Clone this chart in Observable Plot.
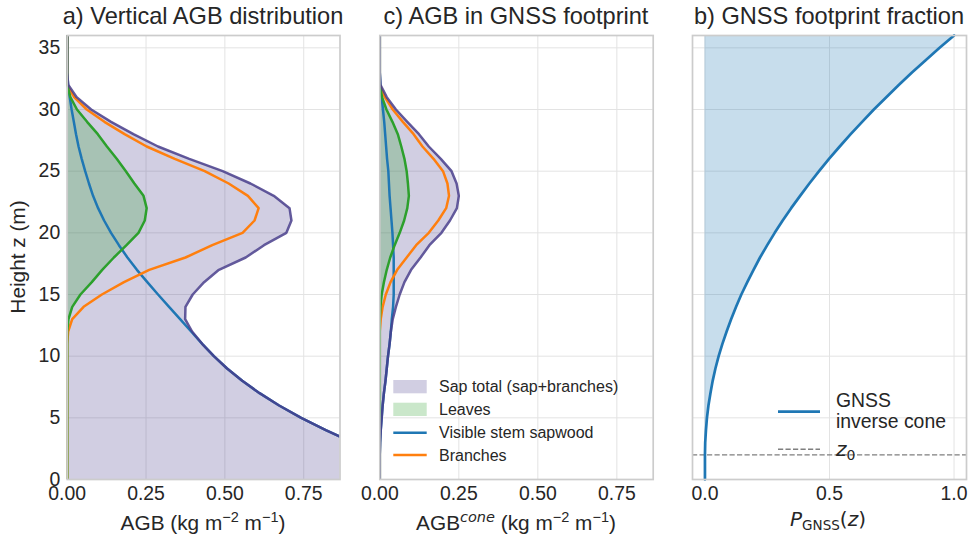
<!DOCTYPE html>
<html><head><meta charset="utf-8">
<script src="https://cdn.jsdelivr.net/npm/d3@7"></script>
<script src="https://cdn.jsdelivr.net/npm/@observablehq/plot@0.6"></script>
<style>
body{margin:0;background:#fff;}
#wrap{position:relative;width:972px;height:539px;overflow:hidden;font-family:"Liberation Sans",Arial,sans-serif;}
#wrap > svg{position:absolute;top:0;}
</style></head><body><div id="wrap"></div>
<script>
// ---- data ----
const heights = [0,1,2,3,4,5,6,7,8,9,10,11,12,13,14,15,16,17,18,19,20,21,22,23,24,25,26,27,28,29,30,31,32,33,34,35,36];
// a) vertical AGB distribution (kg m-2 m-1)
const stemA   = [1.205,1.097,0.997,0.905,0.820,0.742,0.672,0.610,0.555,0.507,0.465,0.428,0.393,0.358,0.323,0.288,0.254,0.221,0.191,0.164,0.139,0.117,0.098,0.082,0.069,0.057,0.046,0.036,0.028,0.021,0.014,0.008,0.003,0,0,0,0];
const branchA = [0,0,0,0,0,0,0,0,0,0,0,0,0.003,0.016,0.052,0.110,0.180,0.260,0.375,0.460,0.556,0.594,0.607,0.573,0.512,0.436,0.341,0.252,0.182,0.118,0.062,0.022,0,0,0,0,0];
const leavesA = [0,0,0,0,0,0,0,0,0,0,0,0,0,0.004,0.016,0.042,0.078,0.111,0.148,0.188,0.226,0.246,0.252,0.242,0.213,0.186,0.157,0.126,0.097,0.063,0.031,0.010,0,0,0,0,0];
// c) AGB inside the GNSS footprint
const stemC   = [0,0,0,0.001,0.003,0.006,0.009,0.013,0.018,0.022,0.026,0.031,0.035,0.038,0.042,0.044,0.044,0.044,0.044,0.042,0.040,0.037,0.034,0.031,0.029,0.027,0.023,0.020,0.017,0.014,0.010,0.006,0.002,0,0,0,0];
const branchC = [0,0,0,0,0,0,0,0,0,0,0,0,0,0.003,0.009,0.019,0.034,0.055,0.085,0.115,0.155,0.185,0.210,0.219,0.214,0.200,0.170,0.135,0.107,0.073,0.041,0.016,0,0,0,0,0];
const leavesC = [0,0,0,0,0,0,0,0,0,0,0,0,0,0,0.002,0.006,0.013,0.022,0.033,0.047,0.063,0.077,0.087,0.092,0.089,0.085,0.078,0.068,0.057,0.040,0.021,0.007,0,0,0,0,0];
// b) GNSS footprint fraction
const pGnss   = [0,0,0,0.001,0.004,0.008,0.014,0.022,0.031,0.042,0.055,0.070,0.087,0.105,0.125,0.146,0.170,0.195,0.221,0.250,0.280,0.312,0.346,0.382,0.419,0.458,0.498,0.541,0.585,0.631,0.678,0.728,0.779,0.831,0.886,0.942,1.000];
const z0 = [2];
// ticks & labels
const yTicks = [0,5,10,15,20,25,30,35];
const agbTicks = [0,0.25,0.5,0.75];
const pTicks = [0,0.5,1.0];
const titles = ["a) Vertical AGB distribution","c) AGB in GNSS footprint","b) GNSS footprint fraction"];
const legendC = ["Sap total (sap+branches)","Leaves","Visible stem sapwood","Branches"];
const legendB = ["GNSS","inverse cone"];

const C = {blue:"#1f77b4", orange:"#ff7f0e", green:"#2ca02c", purple:"#483d8b", grid:"#e3e3e3", frame:"#cccccc", text:"#262626"};
const LW = 2.5;

function rows(stem, branch, leaves){
  return heights.map((z,i)=>({z, stem:stem[i], branches:branch[i], leaves:leaves[i], total:stem[i]+branch[i]}));
}
const rowsA = rows(stemA, branchA, leavesA);
const rowsC = rows(stemC, branchC, leavesC);
const rowsB = heights.map((z,i)=>({z, p:pGnss[i]}));

function agbMarks(data){
  return [
    Plot.areaX(data,{y:"z",x1:0,x2:"total",fill:C.purple,fillOpacity:0.25,clip:true}),
    Plot.areaX(data,{y:"z",x1:0,x2:"leaves",fill:C.green,fillOpacity:0.25,clip:true}),
    Plot.lineX(data,{y:"z",x:"stem",stroke:C.blue,strokeWidth:LW,clip:true}),
    Plot.lineX(data,{y:"z",x:"branches",stroke:C.orange,strokeWidth:LW,clip:true}),
    Plot.lineX(data,{y:"z",x:"leaves",stroke:C.green,strokeWidth:LW,clip:true}),
    Plot.lineX(data,{y:"z",x:"total",stroke:C.purple,strokeOpacity:0.85,strokeWidth:LW,clip:true})
  ];
}

function panel({left,width,ml,mr,xDomain,xTicks,fmt,showY,marks}){
  const svg = Plot.plot({
    width, height:505, marginLeft:ml, marginRight:mr, marginTop:35, marginBottom:26,
    style:{fontFamily:"Liberation Sans, Arial, sans-serif",fontSize:"19.4px",color:C.text,background:"transparent",overflow:"visible"},
    x:{domain:xDomain,ticks:xTicks,tickFormat:d3.format(fmt),label:null,tickSize:0,tickPadding:7},
    y:{domain:[0,36],ticks:yTicks,label:null,tickSize:0,tickPadding:7,axis:showY?"left":null},
    marks:[
      Plot.ruleX(xTicks,{x:d=>d,stroke:C.grid,strokeWidth:1}),
      Plot.ruleY(yTicks,{y:d=>d,stroke:C.grid,strokeWidth:1}),
      ...marks,
      Plot.frame({stroke:C.frame,strokeWidth:1.7})
    ]
  });
  svg.style.left = left+"px";
  document.getElementById("wrap").appendChild(svg);
}

panel({left:0,width:346,ml:66.7,mr:6.5,xDomain:[0,0.865],xTicks:agbTicks,fmt:".2f",showY:true,marks:agbMarks(rowsA)});
panel({left:346,width:314,ml:33.3,mr:7.3,xDomain:[0,0.865],xTicks:agbTicks,fmt:".2f",showY:false,marks:agbMarks(rowsC)});
panel({left:660,width:312,ml:32,mr:6,xDomain:[-0.05,1.05],xTicks:pTicks,fmt:".1f",showY:false,marks:[
  Plot.areaX(rowsB,{y:"z",x1:0,x2:"p",fill:C.blue,fillOpacity:0.25}),
  Plot.ruleY(z0,{y:d=>d,stroke:"#7f7f7f",strokeWidth:1.4,strokeDasharray:"5.2,2.3"}),
  Plot.lineX(rowsB,{y:"z",x:"p",stroke:C.blue,strokeWidth:2.7})
]});

// ---- annotations: titles, axis labels, legends ----
const sup = (t)=>`<tspan dy="-8" font-size="14.5">${t}</tspan>`;
const back = (t)=>`<tspan dy="8">${t}</tspan>`;
const lx = 393.3, lw = 33.4, tx = 439;
const overlay = `
<svg width="972" height="539" style="left:0;pointer-events:none" font-family="Liberation Sans, Arial, sans-serif" fill="${C.text}">
  <text x="203" y="23.5" text-anchor="middle" font-size="23.6">${titles[0]}</text>
  <text x="516" y="23.5" text-anchor="middle" font-size="23.6">${titles[1]}</text>
  <text x="829" y="23.5" text-anchor="middle" font-size="23.6">${titles[2]}</text>
  <text x="203" y="530" text-anchor="middle" font-size="20.8">AGB (kg m${sup("−2")}${back(" m")}${sup("−1")}${back(")")}</text>
  <text x="516" y="530" text-anchor="middle" font-size="20.8">AGB<tspan dy="-8" font-size="14.5" font-style="italic" font-family="DejaVu Sans">cone</tspan>${back(" (kg m")}${sup("−2")}${back(" m")}${sup("−1")}${back(")")}</text>
  <text x="828" y="526" text-anchor="middle" font-size="20" font-family="DejaVu Sans"><tspan font-style="italic">P</tspan><tspan dy="4" font-size="13.5">GNSS</tspan><tspan dy="-4">(</tspan><tspan font-style="italic">z</tspan><tspan>)</tspan></text>
  <text transform="translate(25,257) rotate(-90)" text-anchor="middle" font-size="20.8">Height z (m)</text>
  <rect x="${lx}" y="380" width="${lw}" height="13.3" fill="${C.purple}" fill-opacity="0.25"/>
  <rect x="${lx}" y="402.7" width="${lw}" height="13.3" fill="${C.green}" fill-opacity="0.25"/>
  <line x1="${lx}" x2="${lx+lw}" y1="432.7" y2="432.7" stroke="${C.blue}" stroke-width="${LW}"/>
  <line x1="${lx}" x2="${lx+lw}" y1="455" y2="455" stroke="${C.orange}" stroke-width="${LW}"/>
  <text x="${tx}" y="392.4" font-size="16">${legendC[0]}</text>
  <text x="${tx}" y="415.3" font-size="16">${legendC[1]}</text>
  <text x="${tx}" y="438.4" font-size="16">${legendC[2]}</text>
  <text x="${tx}" y="460.8" font-size="16">${legendC[3]}</text>
  <line x1="778" x2="820" y1="411.7" y2="411.7" stroke="${C.blue}" stroke-width="2.7"/>
  <text x="836" y="406.5" font-size="19.4">${legendB[0]}</text>
  <text x="836" y="427.5" font-size="19.4">${legendB[1]}</text>
  <line x1="778" x2="820" y1="449.3" y2="449.3" stroke="#7f7f7f" stroke-width="1.4" stroke-dasharray="5.2,2.3"/>
  <text x="836" y="455.5" font-size="20" font-family="DejaVu Sans"><tspan font-style="italic">z</tspan><tspan dy="4" font-size="14">0</tspan></text>
</svg>`;
document.getElementById("wrap").insertAdjacentHTML("beforeend", overlay);
</script>
</body></html>
